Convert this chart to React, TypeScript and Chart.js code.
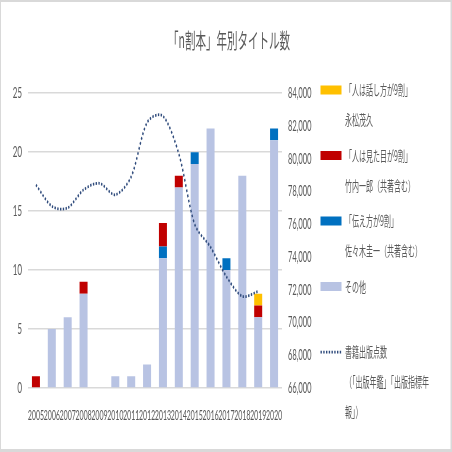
import React, { useEffect, useRef } from 'react';
import { Chart, registerables } from 'chart.js';

Chart.register(...registerables);

// ---- data ----
const years = ['2005', '2006', '2007', '2008', '2009', '2010', '2011', '2012', '2013', '2014', '2015', '2016', '2017', '2018', '2019', '2020'];
const otherTitles = [0, 5, 6, 8, 0, 1, 1, 2, 11, 17, 19, 22, 10, 18, 6, 21];
const tsutaekataTitles = [0, 0, 0, 0, 0, 0, 0, 0, 1, 0, 1, 0, 1, 0, 0, 1];
const mitameTitles = [1, 0, 0, 1, 0, 0, 0, 0, 2, 1, 0, 0, 0, 0, 1, 0];
const hanashikataTitles = [0, 0, 0, 0, 0, 0, 0, 0, 0, 0, 0, 0, 0, 0, 1, 0];
const publishedBooks = [78400, 77100, 77000, 78100, 78500, 77800, 78900, 82200, 82600, 80300, 76000, 74600, 72800, 71600, 71900, null];

const leftMin = 0;
const leftMax = 25;
const leftStep = 5;
const rightMin = 66000;
const rightMax = 84000;
const rightStep = 2000;

const chartTitle = '「n割本」年別タイトル数';
const hanashikataName = ['「人は話し方が9割」', '永松茂久'];
const mitameName = ['「人は見た目が9割」', '竹内一郎（共著含む）'];
const tsutaekataName = ['「伝え方が9割」', '佐々木圭一（共著含む）'];
const otherName = ['その他'];
const publishedName = ['書籍出版点数', '（「出版年鑑」「出版指標年', '報」）'];

// ---- styles ----
const YELLOW = '#FFC000';
const RED = '#C00000';
const BLUE = '#0070C0';
const LAVENDER = '#B8C3E3';
const NAVY = '#2F4B7C';
const TEXT = '#595959';
const GRID = '#D9D9D9';
const DOT = [2.75, 2.75];

const legendItems = [
  { name: hanashikataName, color: YELLOW, line: false },
  { name: mitameName, color: RED, line: false },
  { name: tsutaekataName, color: BLUE, line: false },
  { name: otherName, color: LAVENDER, line: false },
  { name: publishedName, color: NAVY, line: true },
];

const framePlugin = {
  id: 'frame',
  beforeDraw(chart: any) {
    const { ctx, width, height } = chart;
    ctx.save();
    ctx.fillStyle = '#FFFFFF';
    ctx.fillRect(0, 0, width, height);
    ctx.fillStyle = GRID;
    ctx.fillRect(0, 0, width, 2);
    ctx.fillRect(0, 0, 2, height);
    ctx.fillRect(width - 3, 0, 3, height);
    ctx.fillRect(0, height - 3, width, 3);
    ctx.restore();
  },
};

const sideLegendPlugin = {
  id: 'sideLegend',
  afterDraw(chart: any) {
    const ctx = chart.ctx;
    const x0 = chart.chartArea.right + 77;
    const boxW = 42;
    const boxH = 9;
    const textX = x0 + 49;
    let y = 90;
    ctx.save();
    ctx.font = '14px "Noto Sans CJK JP"';
    ctx.textBaseline = 'middle';
    ctx.textAlign = 'left';
    legendItems.forEach((item) => {
      if (item.line) {
        ctx.strokeStyle = item.color;
        ctx.lineWidth = 2.75;
        ctx.setLineDash(DOT);
        ctx.beginPath();
        ctx.moveTo(x0, y);
        ctx.lineTo(x0 + boxW, y);
        ctx.stroke();
        ctx.setLineDash([]);
      } else {
        ctx.fillStyle = item.color;
        ctx.fillRect(x0, y - boxH / 2, boxW, boxH);
      }
      ctx.fillStyle = TEXT;
      item.name.forEach((t, j) => ctx.fillText(t, textX, y + j * 30));
      y += 65.5;
    });
    ctx.restore();
  },
};

export default function App() {
  const ref = useRef<HTMLCanvasElement | null>(null);

  useEffect(() => {
    if (!ref.current) return;
    const barDs = (label: string, data: number[], color: string) => ({
      type: 'bar' as const,
      label,
      data,
      backgroundColor: color,
      borderWidth: 0,
      yAxisID: 'y',
      stack: 'titles',
      categoryPercentage: 0.504,
      barPercentage: 1,
    });
    const chart = new Chart(ref.current, {
      type: 'bar',
      data: {
        labels: years,
        datasets: [
          {
            type: 'line',
            label: publishedName.join(''),
            data: publishedBooks,
            yAxisID: 'y2',
            borderColor: NAVY,
            borderWidth: 2.75,
            borderDash: DOT,
            borderCapStyle: 'butt',
            pointRadius: 0,
            tension: 0.3,
            fill: false,
            spanGaps: false,
          } as any,
          barDs(otherName.join(''), otherTitles, LAVENDER),
          barDs(tsutaekataName.join(''), tsutaekataTitles, BLUE),
          barDs(mitameName.join(''), mitameTitles, RED),
          barDs(hanashikataName.join(''), hanashikataTitles, YELLOW),
        ],
      },
      options: {
        responsive: false,
        maintainAspectRatio: false,
        devicePixelRatio: 1,
        animation: false,
        layout: { padding: { left: 12, right: 0, top: 0, bottom: 0 } },
        plugins: {
          legend: { display: false },
          tooltip: { enabled: false },
          title: {
            display: true,
            text: chartTitle,
            color: TEXT,
            font: { family: '"Noto Sans CJK JP"', size: 21, weight: 'normal' },
            padding: { top: 27, bottom: 41 },
          },
        },
        scales: {
          x: {
            stacked: true,
            grid: { display: false, drawTicks: false },
            border: { display: false },
            ticks: {
              color: TEXT,
              font: { family: 'Lato', size: 14 },
              autoSkip: false,
              maxRotation: 0,
              minRotation: 0,
              padding: 19,
            },
            afterFit: (s: any) => { s.height = 64; },
          },
          y: {
            stacked: true,
            position: 'left',
            min: leftMin,
            max: leftMax,
            grid: { color: GRID, lineWidth: 1.5, drawTicks: false },
            border: { display: false },
            ticks: {
              stepSize: leftStep,
              color: TEXT,
              font: { family: 'Lato', size: 16 },
              padding: 12,
            },
            afterFit: (s: any) => { s.width = 44; },
          },
          y2: {
            position: 'right',
            min: rightMin,
            max: rightMax,
            grid: { drawOnChartArea: false, drawTicks: false },
            border: { display: false },
            ticks: {
              stepSize: rightStep,
              color: TEXT,
              font: { family: 'Lato', size: 15 },
              padding: 12,
              callback: (v: any) => Number(v).toLocaleString('en-US'),
            },
            afterFit: (s: any) => { s.width = 340; },
          },
        },
      },
      plugins: [framePlugin, sideLegendPlugin],
    });
    return () => chart.destroy();
  }, []);

  return (
    <div style={{ position: 'fixed', left: 0, top: 0, width: 452, height: 452, background: '#fff' }}>
      <canvas ref={ref} width={904} height={452} style={{ width: '452px', height: '452px', display: 'block' }} />
    </div>
  );
}
